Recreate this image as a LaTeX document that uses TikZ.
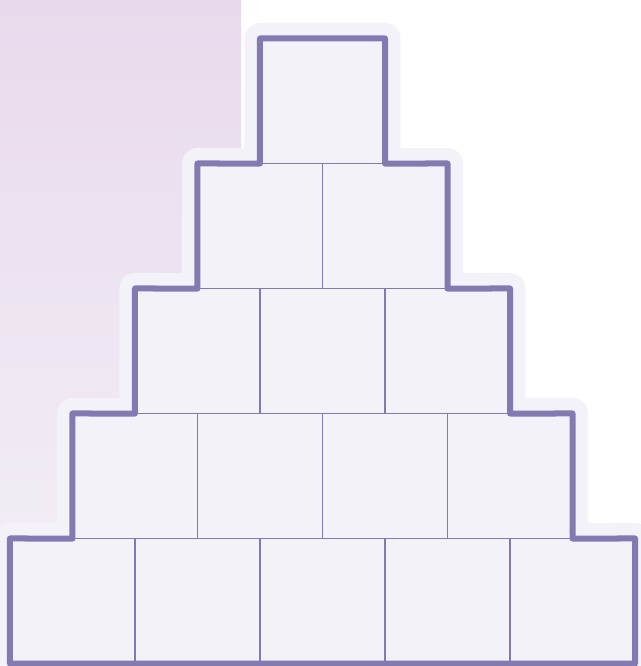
\documentclass[tikz,border=0pt]{standalone}
\usetikzlibrary{positioning,backgrounds}
\definecolor{edgeviolet}{HTML}{837AB2}
\definecolor{cellfill}{HTML}{F4F2F9}
\definecolor{glowfill}{HTML}{F4F2F9}
\definecolor{paneltop}{HTML}{E8DAEC}
\definecolor{panelbottom}{HTML}{F4F1F7}
\begin{document}
\begin{tikzpicture}[
        x=0.025cm, y=-0.025cm,
        cell/.style={draw=edgeviolet, fill=cellfill, line width=0.9pt,
            minimum size=3.125cm, inner sep=0pt, outer sep=0pt},
        rim/.style={draw=edgeviolet, line width=0.15cm, line join=round},
        glow/.style={draw=glowfill, fill=glowfill, line width=0.775cm, line join=round}
    ]
        \useasboundingbox (0,0) rectangle (640,666);

        % Cells, row r holds r squares
        \foreach \r in {1,...,5} {
            \foreach \k in {1,...,\r} {
                \node[cell] (cell-\r-\k) at ({322.5 + (\k - (\r+1)/2)*125}, {38.5 + (\r-0.5)*125}) {};
            }
        }

        \begin{scope}[on background layer]
            % Shaded panel behind
            \shade[top color=paneltop, bottom color=panelbottom] (0,0) rectangle (241,666);
            % Soft glow round the pyramid
            \path[glow]
                (cell-5-1.south west) -- (cell-5-1.north west) -- (cell-4-1.south west)
                -- (cell-4-1.north west) -- (cell-3-1.south west) -- (cell-3-1.north west)
                -- (cell-2-1.south west) -- (cell-2-1.north west) -- (cell-1-1.south west)
                -- (cell-1-1.north west) -- (cell-1-1.north east) -- (cell-1-1.south east)
                -- (cell-2-2.north east) -- (cell-2-2.south east) -- (cell-3-3.north east)
                -- (cell-3-3.south east) -- (cell-4-4.north east) -- (cell-4-4.south east)
                -- (cell-5-5.north east) -- (cell-5-5.south east) -- cycle;
        \end{scope}

        % Thick outline
        \draw[rim]
            (cell-5-1.south west) -- (cell-5-1.north west) -- (cell-4-1.south west)
            -- (cell-4-1.north west) -- (cell-3-1.south west) -- (cell-3-1.north west)
            -- (cell-2-1.south west) -- (cell-2-1.north west) -- (cell-1-1.south west)
            -- (cell-1-1.north west) -- (cell-1-1.north east) -- (cell-1-1.south east)
            -- (cell-2-2.north east) -- (cell-2-2.south east) -- (cell-3-3.north east)
            -- (cell-3-3.south east) -- (cell-4-4.north east) -- (cell-4-4.south east)
            -- (cell-5-5.north east) -- (cell-5-5.south east) -- cycle;

    \end{tikzpicture}
\end{document}
